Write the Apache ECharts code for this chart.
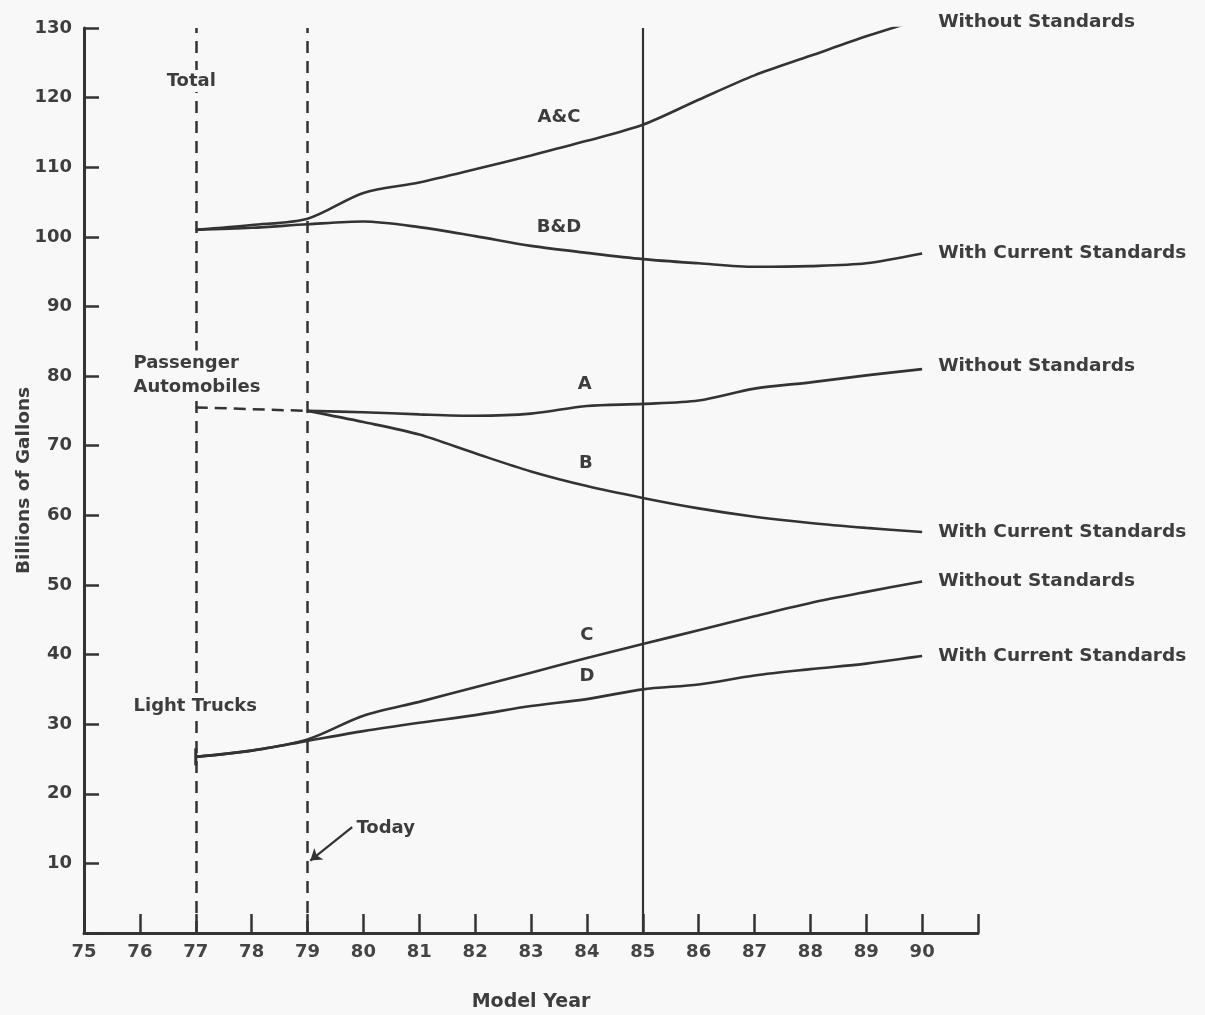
<!DOCTYPE html>
<html>
<head>
<meta charset="utf-8">
<script src="https://cdn.jsdelivr.net/npm/echarts@6/dist/echarts.min.js"></script>
<style>
html,body{margin:0;padding:0;background:#f8f8f8;}
#chart{width:1205px;height:1015px;}
</style>
</head>
<body>
<div id="chart"></div>
<script>
// ---- data ----
const years = [77,78,79,80,81,82,83,84,85,86,87,88,89,90];
const paxYears = [79,80,81,82,83,84,85,86,87,88,89,90];
const totalWithout = [101.0,101.7,102.6,106.3,107.8,109.7,111.7,113.8,116.1,119.7,123.2,126.0,128.8,131.3];
const totalWith    = [101.0,101.3,101.8,102.2,101.4,100.1,98.7,97.7,96.8,96.2,95.7,95.8,96.2,97.6];
const paxWithout   = [75.0,74.8,74.5,74.3,74.6,75.7,76.0,76.5,78.2,79.1,80.1,81.0];
const paxWith      = [75.0,73.4,71.6,68.9,66.3,64.2,62.5,61.0,59.8,58.9,58.2,57.6];
const paxBaseYears = [77,79];
const paxBase      = [75.5,75.0];
const truckWithout = [25.3,26.2,27.8,31.2,33.2,35.3,37.4,39.5,41.5,43.5,45.5,47.4,49.0,50.5];
const truckWith    = [25.3,26.2,27.6,29.0,30.2,31.3,32.6,33.6,35.0,35.7,37.0,37.9,38.7,39.8];
const xTicks = {min:75, max:91, interval:1};
const yTicks = {min:0, max:130, interval:10};
const markerYears = {dashed:[77,79], solid:[85]};
const endLabels = {
  totalWithout:'Without Standards', totalWith:'With Current Standards',
  paxWithout:'Without Standards', paxWith:'With Current Standards',
  truckWithout:'Without Standards', truckWith:'With Current Standards'
};
// annotation text anchors in data units
const annCenter = [
  {name:'A&C', x:83.5, y:117.1},
  {name:'B&D', x:83.5, y:101.4},
  {name:'A', x:83.96, y:78.8},
  {name:'B', x:83.98, y:67.5},
  {name:'C', x:84.0, y:42.8},
  {name:'D', x:84.0, y:36.9},
  {name:'Total', x:76.92, y:122.4}
];
const annLeft = [
  {name:'Passenger\nAutomobiles', x:75.85, y:80.1},
  {name:'Light Trucks', x:75.85, y:32.5},
  {name:'Today', x:79.84, y:15.0}
];
const todayArrow = {from:[79.8,15.2], to:[79.05,10.4]};

// ---- chart ----
const INK = '#333';
const TXT = '#3d3d3d';
const BG = '#f8f8f8';
const FONT = 'DejaVu Sans';
const pairs = (xs, ys) => xs.map((x,i)=>[x, ys[i]]);

function lineSeries(name, xs, ys, label, offY, extra){
  return Object.assign({
    type:'line', name, data:pairs(xs,ys), smooth:0.3, symbol:'none',
    lineStyle:{color:INK, width:2.6}, z:5, silent:true,
    endLabel:{show:true, formatter:label, color:TXT, fontFamily:FONT, fontWeight:'bold',
      fontSize:18.5, offset:[10, offY||0], distance:6}
  }, extra||{});
}

const truckWithData = pairs(years, truckWith);
const truckWithoutData = pairs(years, truckWithout);
truckWithData[0] = {value:truckWithData[0], symbol:'rect', symbolSize:[3,17], itemStyle:{color:INK}};

const annLabelBase = {show:true, formatter:'{b}', color:TXT, fontFamily:FONT,
  fontWeight:'bold', fontSize:18, backgroundColor:BG};

const chart = echarts.init(document.getElementById('chart'), null, {renderer:'canvas'});
chart.setOption({
  backgroundColor:BG,
  animation:false,
  grid:{left:84, right:227, top:28, bottom:82, containLabel:false, outerBoundsMode:'none'},
  xAxis:{
    type:'value', min:xTicks.min, max:xTicks.max, interval:xTicks.interval,
    name:'Model Year', nameLocation:'middle', nameGap:60, nameMoveOverlap:false,
    nameTextStyle:{color:TXT, fontFamily:FONT, fontSize:19, fontWeight:'bold'},
    axisLine:{lineStyle:{color:INK, width:3}},
    axisTick:{inside:true, length:19, lineStyle:{color:INK, width:2.5}},
    axisLabel:{color:'#444', fontFamily:FONT, fontSize:18, fontWeight:'bold', margin:10,
      formatter:v => (v===91 ? '' : String(v))},
    splitLine:{show:false}
  },
  yAxis:{
    type:'value', min:yTicks.min, max:yTicks.max, interval:yTicks.interval,
    name:'Billions of Gallons', nameLocation:'middle', nameGap:50, nameMoveOverlap:false,
    nameTextStyle:{color:TXT, fontFamily:FONT, fontSize:18.5, fontWeight:'bold'},
    axisLine:{show:true, lineStyle:{color:INK, width:3}},
    axisTick:{show:true, inside:true, length:15, lineStyle:{color:INK, width:2.5}},
    axisLabel:{color:TXT, fontFamily:FONT, fontSize:18, fontWeight:'bold', margin:12,
      formatter:v => (v===0 ? '' : String(v))},
    splitLine:{show:false}
  },
  series:[
    {
      type:'line', data:[], silent:true, z:2,
      markLine:{
        silent:true, symbol:'none', label:{show:false},
        data:[
          ...markerYears.dashed.map(x=>({xAxis:x, lineStyle:{color:INK, width:2.5, type:[12,8]}})),
          ...markerYears.solid.map(x=>({xAxis:x, lineStyle:{color:INK, width:2.2, type:'solid'}})),
          [{coord:todayArrow.from, lineStyle:{color:INK, width:2.2, type:'solid'}}, {coord:todayArrow.to, symbol:'arrow'}]
        ],
        symbolSize:11
      }
    },
    lineSeries('totalWithout', years, totalWithout, endLabels.totalWithout, 3),
    lineSeries('totalWith', years, totalWith, endLabels.totalWith, 0),
    lineSeries('paxWithout', paxYears, paxWithout, endLabels.paxWithout, -3),
    lineSeries('paxWith', paxYears, paxWith, endLabels.paxWith, 0),
    {
      type:'line', data:pairs(paxBaseYears, paxBase), symbol:'none', silent:true, z:4,
      lineStyle:{color:INK, width:2.5, type:[12,7]}
    },
    Object.assign(lineSeries('truckWithout', years, truckWithout, endLabels.truckWithout, 0), {data:truckWithoutData}),
    Object.assign(lineSeries('truckWith', years, truckWith, endLabels.truckWith, 0), {data:truckWithData, showSymbol:true}),
    {
      type:'scatter', symbolSize:0, silent:true, z:10,
      itemStyle:{opacity:1},
      data:annCenter.map(a=>({name:a.name, value:[a.x,a.y]})),
      label:Object.assign({}, annLabelBase, {position:'inside', padding:[2,3]})
    },
    {
      type:'scatter', symbolSize:0, silent:true, z:10,
      itemStyle:{opacity:1},
      data:annLeft.map(a=>({name:a.name, value:[a.x,a.y]})),
      label:Object.assign({}, annLabelBase, {position:'right', distance:0, lineHeight:24, padding:[1,2], align:'left'})
    }
  ]
});
</script>
</body>
</html>
